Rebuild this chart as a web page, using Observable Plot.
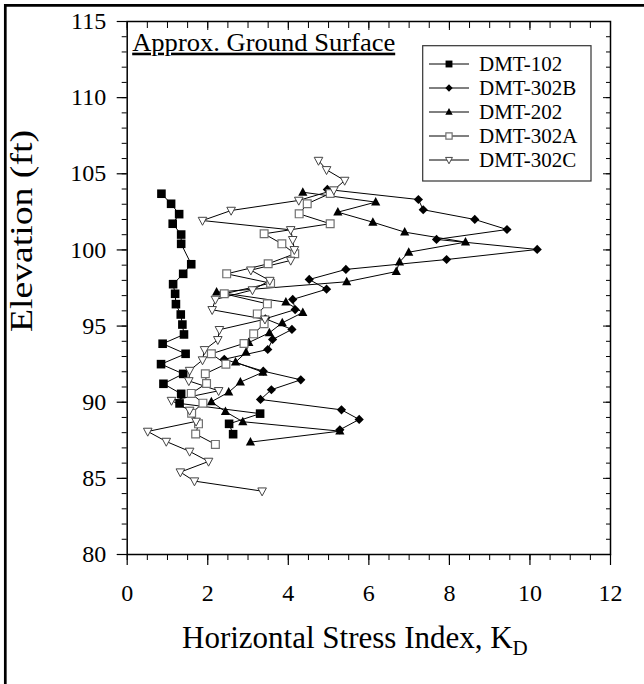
<!DOCTYPE html>
<html><head><meta charset="utf-8">
<script src="https://cdn.jsdelivr.net/npm/d3@7"></script>
<script src="https://cdn.jsdelivr.net/npm/@observablehq/plot@0.6"></script>
<style>body{margin:0;background:#fff} svg{display:block} svg text{font-family:'Liberation Serif',serif !important;}</style>
</head><body><div id="chart"></div>
<script>
// ---- data ----
const seriesNames = ["DMT-102","DMT-302B","DMT-202","DMT-302A","DMT-302C"];

const elev102 = [103.69,103.03,102.35,101.72,101.01,100.40,99.06,98.43,97.75,97.12,96.44,95.76,95.10,94.45,93.84,93.18,92.50,91.86,91.21,90.55,89.92,89.25,88.58,87.90];
const kd102   = [0.85,1.09,1.29,1.13,1.34,1.34,1.59,1.39,1.14,1.19,1.21,1.33,1.37,1.41,0.88,1.45,0.84,1.39,0.90,1.34,1.30,3.30,2.53,2.63];

const elev302B = [103.97,103.31,102.64,102.00,101.34,100.69,100.03,99.37,98.72,98.06,97.42,96.75,96.08,95.48,94.78,94.12,93.46,92.82,92.04,91.47,90.82,90.18,89.50,88.87,88.19];
const kd302B   = [4.97,7.23,7.35,8.63,9.43,7.68,10.18,7.93,5.43,4.52,4.95,4.11,4.17,3.43,4.09,3.61,3.49,2.41,3.38,4.31,3.58,3.31,5.32,5.76,5.28];

const elev202 = [103.79,103.14,102.48,101.82,101.17,100.51,99.85,99.20,98.58,97.91,97.23,96.57,95.89,95.21,94.56,93.92,93.27,92.63,91.97,91.32,90.66,90.03,89.38,88.72,88.10,87.38];
const kd202   = [4.36,6.17,5.23,6.10,6.89,8.40,6.99,6.76,6.68,5.45,2.22,3.94,4.36,3.85,3.53,3.02,2.95,2.69,3.37,2.81,2.52,2.09,2.44,2.87,5.28,3.06];

const elev302A = [103.71,103.03,102.37,101.72,101.06,100.40,99.75,99.09,98.43,97.82,97.12,96.46,95.80,95.15,94.49,93.86,93.18,92.50,91.87,91.23,90.58,89.94,89.28,88.58,87.91,87.23];
const kd302A   = [5.04,4.47,4.27,5.04,3.40,3.84,4.16,3.50,2.47,3.56,2.41,3.48,3.23,3.40,3.14,2.90,2.09,2.45,1.94,1.97,1.59,1.88,1.60,1.77,1.70,2.19];

const elev302C = [105.87,105.26,104.56,103.93,103.25,102.59,101.93,101.32,100.67,100.01,99.31,98.67,97.99,97.37,96.75,96.07,95.45,94.76,94.10,93.44,92.77,92.08,91.40,90.75,90.11,89.46,88.74,88.08,87.42,86.77,86.11,85.41,84.82,84.16];
const kd302C   = [4.75,4.95,5.40,5.13,4.26,2.58,1.87,4.06,4.11,4.15,4.06,3.07,3.54,3.11,2.19,2.11,3.42,2.29,2.25,1.92,1.87,1.55,1.53,2.27,1.10,1.55,1.71,0.51,0.97,1.55,2.02,1.32,1.67,3.35];

const xTicks = [0,2,4,6,8,10,12];
const yTicks = [80,85,90,95,100,105,110,115];
const xMinorTicks = [0,0.5,1,1.5,2,2.5,3,3.5,4,4.5,5,5.5,6,6.5,7,7.5,8,8.5,9,9.5,10,10.5,11,11.5,12];
const yMinorTicks = [80,81,82,83,84,85,86,87,88,89,90,91,92,93,94,95,96,97,98,99,100,101,102,103,104,105,106,107,108,109,110,111,112,113,114,115];

const xLabel = "Horizontal Stress Index, K";
const xLabelSub = "D";
const yLabel = "Elevation (ft)";
const annotation = "Approx. Ground Surface";

// ---- table ----
const seriesData = {
  "DMT-102": [elev102, kd102],
  "DMT-302B": [elev302B, kd302B],
  "DMT-202": [elev202, kd202],
  "DMT-302A": [elev302A, kd302A],
  "DMT-302C": [elev302C, kd302C]
};
const table = seriesNames.flatMap(s => seriesData[s][0].map((e, i) => ({series: s, elev: e, kd: seriesData[s][1][i]})));

// ---- symbols ----
function mkSym(fn){ return {draw(ctx, size){ const r = Math.sqrt(size/Math.PI); fn(ctx, r); }}; }
const symSquare = mkSym((c,r)=>{c.moveTo(-r,-r);c.lineTo(r,-r);c.lineTo(r,r);c.lineTo(-r,r);c.closePath();});
const symDiamond = mkSym((c,r)=>{c.moveTo(0,-r);c.lineTo(r,0);c.lineTo(0,r);c.lineTo(-r,0);c.closePath();});
const symTri = mkSym((c,r)=>{c.moveTo(0,-r*1.1);c.lineTo(r,r*0.75);c.lineTo(-r,r*0.75);c.closePath();});
const symTriDown = mkSym((c,r)=>{c.moveTo(-r,-r*0.75);c.lineTo(r,-r*0.75);c.lineTo(0,r*1.1);c.closePath();});

const styles = {
  "DMT-102":  {symbol: symSquare,  r: 4.3, fill: "#000", stroke: "none", strokeWidth: 0},
  "DMT-302B": {symbol: symDiamond, r: 4.6, fill: "#000", stroke: "none", strokeWidth: 0},
  "DMT-202":  {symbol: symTri,     r: 4.6, fill: "#000", stroke: "none", strokeWidth: 0},
  "DMT-302A": {symbol: symSquare,  r: 3.9, fill: "#fff", stroke: "#707070", strokeWidth: 1.2},
  "DMT-302C": {symbol: symTriDown, r: 4.3, fill: "#fff", stroke: "#444", strokeWidth: 1}
};

const FONT = "Liberation Serif";
const noText = () => "";

const marks = [
  Plot.line(table, {x: "kd", y: "elev", z: "series", stroke: "#000", strokeWidth: 1}),
  ...seriesNames.map(s => Plot.dot(table.filter(d => d.series === s), {x: "kd", y: "elev", ...styles[s]})),
  Plot.axisX(xMinorTicks, {anchor: "bottom", tickSize: 6, tickFormat: noText, label: null}),
  Plot.axisX(xTicks, {anchor: "bottom", tickSize: 11, tickPadding: 18, fontSize: 24, label: null, strokeWidth: 1.2}),
  Plot.axisX(xMinorTicks, {anchor: "top", tickSize: -6, tickFormat: noText, label: null}),
  Plot.axisX(xTicks, {anchor: "top", tickSize: -8, tickFormat: noText, label: null}),
  Plot.axisY(yMinorTicks, {anchor: "left", tickSize: 5, tickFormat: noText, label: null}),
  Plot.axisY(yTicks, {anchor: "left", tickSize: 10, tickPadding: 11, fontSize: 24, label: null, strokeWidth: 1.2}),
  Plot.axisY(yMinorTicks, {anchor: "right", tickSize: -5, tickFormat: noText, label: null}),
  Plot.axisY(yTicks, {anchor: "right", tickSize: -8, tickFormat: noText, label: null}),
  Plot.frame({stroke: "#000", strokeWidth: 1.5}),
  Plot.text([annotation], {frameAnchor: "top-left", text: d => d, dx: 5, dy: 10.7, textAnchor: "start", lineAnchor: "top", fontSize: 26, className: "annot"})
];

const chart = Plot.plot({
  width: 644, height: 684,
  marginLeft: 126.7, marginRight: 34, marginTop: 21, marginBottom: 130,
  x: {domain: [0, 12]},
  y: {domain: [80, 115]},
  style: "font-family: 'Liberation Serif', serif; font-size: 24px; color: #000; background: #fff;",
  marks
});
document.getElementById("chart").append(chart);

// ---- decorations: labels, legend, figure border ----
const svg = d3.select(chart);
svg.selectAll("text").attr("font-family", FONT);
svg.selectAll(".annot text").attr("text-decoration", "underline").attr("textLength", 263).attr("lengthAdjust", "spacingAndGlyphs");

// figure border (top & left)
svg.append("path").attr("d", "M5.3,684V5.3H644").attr("fill", "none").attr("stroke", "#000").attr("stroke-width", 2.7);

// x label with subscript
const xl = svg.append("text").attr("x", 182).attr("y", 648).attr("text-anchor", "start")
  .attr("font-size", 31).attr("font-family", FONT).attr("fill", "#000");
xl.append("tspan").text(xLabel);
xl.append("tspan").attr("font-size", 21).attr("dy", 7).text(xLabelSub);

// y label
svg.append("text").attr("transform", "translate(32,231) rotate(-90)").attr("text-anchor", "middle")
  .attr("font-size", 31).attr("font-family", FONT).attr("fill", "#000")
  .attr("textLength", 202).attr("lengthAdjust", "spacingAndGlyphs").text(yLabel);

// legend
const lg = svg.append("g").attr("text-anchor", "start");
lg.append("rect").attr("x", 422.7).attr("y", 45.7).attr("width", 168.3).attr("height", 135.3)
  .attr("fill", "#fff").attr("stroke", "#333").attr("stroke-width", 1.2);
seriesNames.forEach((s, i) => {
  const cy = 64 + i * 24;
  const st = styles[s];
  lg.append("line").attr("x1", 429).attr("x2", 469).attr("y1", cy).attr("y2", cy).attr("stroke", "#000").attr("stroke-width", 1);
  const rr = st.r * 0.8;
  lg.append("path").attr("transform", `translate(449,${cy})`)
    .attr("d", d3.symbol(st.symbol, Math.PI * rr * rr)())
    .attr("fill", st.fill).attr("stroke", st.stroke).attr("stroke-width", st.strokeWidth);
  lg.append("text").attr("x", 479).attr("y", cy + 7).attr("text-anchor", "start")
    .attr("font-size", 21).attr("font-family", FONT).attr("fill", "#000").text(s);
});
</script>
</body></html>
